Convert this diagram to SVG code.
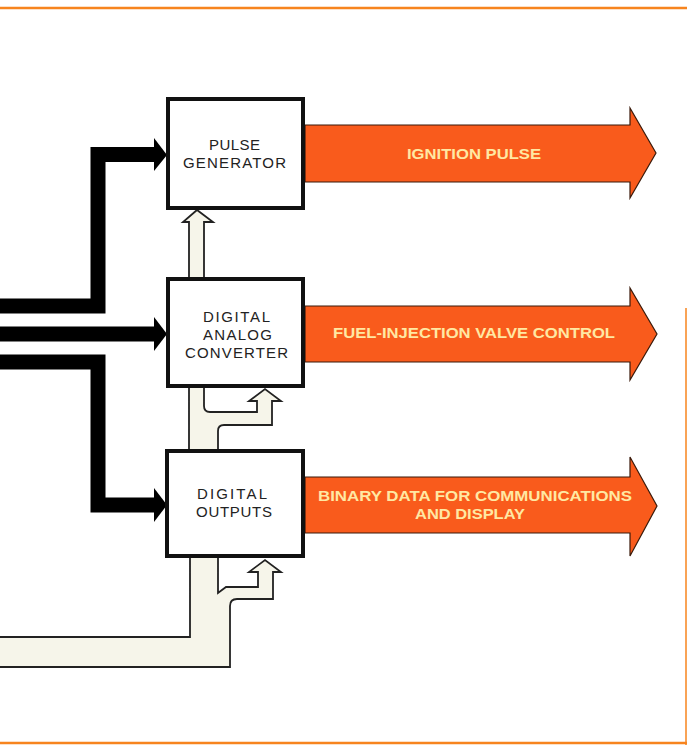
<svg xmlns="http://www.w3.org/2000/svg" width="687" height="745" viewBox="0 0 687 745">
<style>
.box{fill:#fff;stroke:#111;stroke-width:4}
.bus{fill:none;stroke:#000;stroke-width:15;stroke-linejoin:miter}
.head{fill:#000}
.pipe{fill:#F6F5EA;stroke:#222;stroke-width:1.8;stroke-linejoin:miter}
.out{fill:#F95B1C;stroke:#3a1a0a;stroke-width:1.2}
.lbl{font-family:"Liberation Sans",Arial,sans-serif;font-size:15px;fill:#222;text-anchor:middle}
.olbl{font-family:"Liberation Sans",Arial,sans-serif;font-size:15px;font-weight:bold;fill:#FFE8A3;text-anchor:middle}
.frame{stroke:#F7841E;fill:none}
</style>
<g id="frame">
<line class="frame" x1="0" y1="8" x2="687" y2="8" stroke-width="2.5"/>
<line class="frame" x1="0" y1="743" x2="687" y2="743" stroke-width="2.5"/>
<line class="frame" x1="686" y1="308" x2="686" y2="745" stroke-width="1.5"/>
</g>
<g id="connectors">
<polyline class="bus" points="-5,306 98,306 98,154.5 155,154.5"/>
<polygon class="head" points="154,138 167,155 154,171"/>
<polyline class="bus" points="-5,334 155,334"/>
<polygon class="head" points="154,317 167,334 154,351"/>
<polyline class="bus" points="-5,362 98,362 98,505 155,505"/>
<polygon class="head" points="154,488 167,505 154,522"/>
<path class="pipe" d="M189,279 L189,222 L183,222 L197,210 L213,222 L204,222 L204,279 Z"/>
<path class="pipe" d="M189,451 L189,386 L204,386 L204,406 Q204,412 210,412 L257,412 L257,401 L249,401 L265,389 L281,401 L272,401 L272,425 L224,425 Q218,425 218,431 L218,451 Z"/>
<path class="pipe" d="M190,556 L190,637 L-3,637 L-3,667 L230,667 L230,606 Q230,599 237,599 L273,599 L273,572 L281,572 L265,560 L249,572 L258,572 L258,587 L226,587 L218,593 L218,556 Z"/>
<polygon class="out" points="305,125 630,125 630,108 656,153 630,198 630,182 305,182"/>
<polygon class="out" points="305,306 630,306 630,288 657,334 630,380 630,362 305,362"/>
<polygon class="out" points="305,477 630,477 630,457 657,506 630,556 630,533 305,533"/>
<text class="olbl" x="474" y="159" textLength="134" lengthAdjust="spacingAndGlyphs">IGNITION PULSE</text>
<text class="olbl" x="474" y="338" textLength="282" lengthAdjust="spacingAndGlyphs">FUEL-INJECTION VALVE CONTROL</text>
<text class="olbl" x="475" y="501" textLength="314" lengthAdjust="spacingAndGlyphs">BINARY DATA FOR COMMUNICATIONS</text>
<text class="olbl" x="470" y="519" textLength="110" lengthAdjust="spacingAndGlyphs">AND DISPLAY</text>
</g>
<g id="pulse-generator">
<rect class="box" x="168" y="99" width="135" height="109"/>
<text class="lbl" x="234.5" y="150" textLength="51" lengthAdjust="spacing">PULSE</text>
<text class="lbl" x="234.5" y="168" textLength="103" lengthAdjust="spacing">GENERATOR</text>
</g>
<g id="digital-analog-converter">
<rect class="box" x="168" y="279" width="135" height="107"/>
<text class="lbl" x="236.5" y="322" textLength="67" lengthAdjust="spacing">DIGITAL</text>
<text class="lbl" x="237.5" y="340" textLength="69" lengthAdjust="spacing">ANALOG</text>
<text class="lbl" x="236.5" y="358" textLength="103" lengthAdjust="spacing">CONVERTER</text>
</g>
<g id="digital-outputs">
<rect class="box" x="167" y="451" width="136" height="105"/>
<text class="lbl" x="232" y="499" textLength="70" lengthAdjust="spacing">DIGITAL</text>
<text class="lbl" x="234" y="517" textLength="76" lengthAdjust="spacing">OUTPUTS</text>
</g>
</svg>
